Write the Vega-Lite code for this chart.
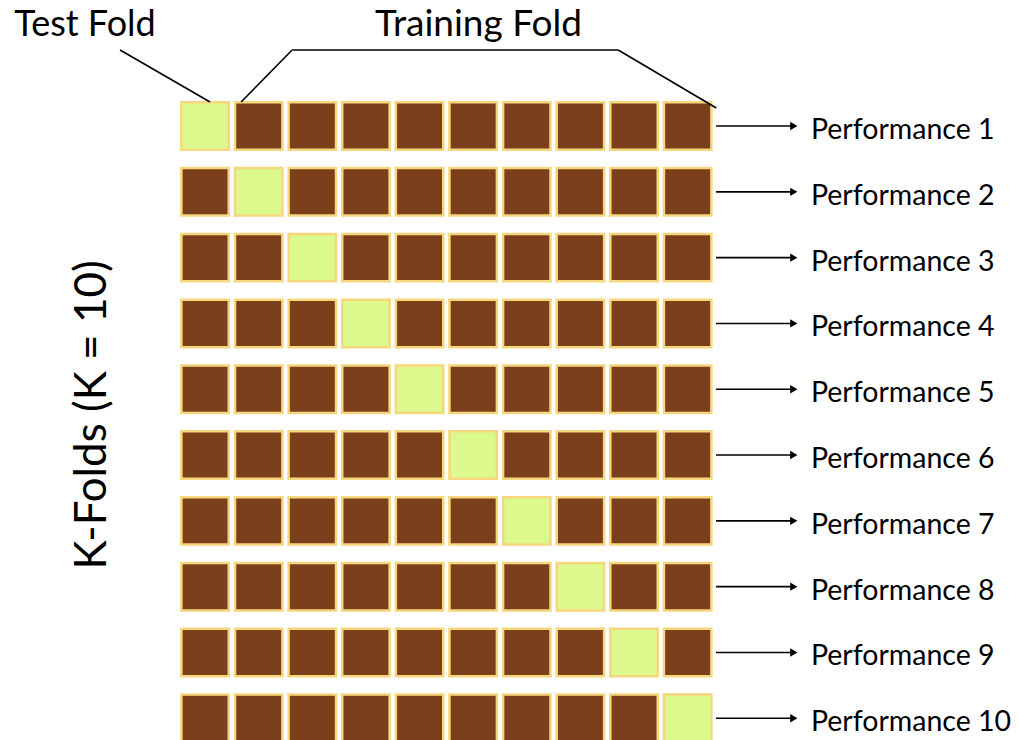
{
  "$schema": "https://vega.github.io/schema/vega-lite/v6.json",
  "width": 1019,
  "height": 740,
  "autosize": "none",
  "padding": 0,
  "background": "white",
  "config": {"view": {"stroke": null}},
  "datasets": {
    "folds": [
      {"k":1,"fold":1,"role":"Test"},{"k":1,"fold":2,"role":"Train"},{"k":1,"fold":3,"role":"Train"},{"k":1,"fold":4,"role":"Train"},{"k":1,"fold":5,"role":"Train"},{"k":1,"fold":6,"role":"Train"},{"k":1,"fold":7,"role":"Train"},{"k":1,"fold":8,"role":"Train"},{"k":1,"fold":9,"role":"Train"},{"k":1,"fold":10,"role":"Train"},
      {"k":2,"fold":1,"role":"Train"},{"k":2,"fold":2,"role":"Test"},{"k":2,"fold":3,"role":"Train"},{"k":2,"fold":4,"role":"Train"},{"k":2,"fold":5,"role":"Train"},{"k":2,"fold":6,"role":"Train"},{"k":2,"fold":7,"role":"Train"},{"k":2,"fold":8,"role":"Train"},{"k":2,"fold":9,"role":"Train"},{"k":2,"fold":10,"role":"Train"},
      {"k":3,"fold":1,"role":"Train"},{"k":3,"fold":2,"role":"Train"},{"k":3,"fold":3,"role":"Test"},{"k":3,"fold":4,"role":"Train"},{"k":3,"fold":5,"role":"Train"},{"k":3,"fold":6,"role":"Train"},{"k":3,"fold":7,"role":"Train"},{"k":3,"fold":8,"role":"Train"},{"k":3,"fold":9,"role":"Train"},{"k":3,"fold":10,"role":"Train"},
      {"k":4,"fold":1,"role":"Train"},{"k":4,"fold":2,"role":"Train"},{"k":4,"fold":3,"role":"Train"},{"k":4,"fold":4,"role":"Test"},{"k":4,"fold":5,"role":"Train"},{"k":4,"fold":6,"role":"Train"},{"k":4,"fold":7,"role":"Train"},{"k":4,"fold":8,"role":"Train"},{"k":4,"fold":9,"role":"Train"},{"k":4,"fold":10,"role":"Train"},
      {"k":5,"fold":1,"role":"Train"},{"k":5,"fold":2,"role":"Train"},{"k":5,"fold":3,"role":"Train"},{"k":5,"fold":4,"role":"Train"},{"k":5,"fold":5,"role":"Test"},{"k":5,"fold":6,"role":"Train"},{"k":5,"fold":7,"role":"Train"},{"k":5,"fold":8,"role":"Train"},{"k":5,"fold":9,"role":"Train"},{"k":5,"fold":10,"role":"Train"},
      {"k":6,"fold":1,"role":"Train"},{"k":6,"fold":2,"role":"Train"},{"k":6,"fold":3,"role":"Train"},{"k":6,"fold":4,"role":"Train"},{"k":6,"fold":5,"role":"Train"},{"k":6,"fold":6,"role":"Test"},{"k":6,"fold":7,"role":"Train"},{"k":6,"fold":8,"role":"Train"},{"k":6,"fold":9,"role":"Train"},{"k":6,"fold":10,"role":"Train"},
      {"k":7,"fold":1,"role":"Train"},{"k":7,"fold":2,"role":"Train"},{"k":7,"fold":3,"role":"Train"},{"k":7,"fold":4,"role":"Train"},{"k":7,"fold":5,"role":"Train"},{"k":7,"fold":6,"role":"Train"},{"k":7,"fold":7,"role":"Test"},{"k":7,"fold":8,"role":"Train"},{"k":7,"fold":9,"role":"Train"},{"k":7,"fold":10,"role":"Train"},
      {"k":8,"fold":1,"role":"Train"},{"k":8,"fold":2,"role":"Train"},{"k":8,"fold":3,"role":"Train"},{"k":8,"fold":4,"role":"Train"},{"k":8,"fold":5,"role":"Train"},{"k":8,"fold":6,"role":"Train"},{"k":8,"fold":7,"role":"Train"},{"k":8,"fold":8,"role":"Test"},{"k":8,"fold":9,"role":"Train"},{"k":8,"fold":10,"role":"Train"},
      {"k":9,"fold":1,"role":"Train"},{"k":9,"fold":2,"role":"Train"},{"k":9,"fold":3,"role":"Train"},{"k":9,"fold":4,"role":"Train"},{"k":9,"fold":5,"role":"Train"},{"k":9,"fold":6,"role":"Train"},{"k":9,"fold":7,"role":"Train"},{"k":9,"fold":8,"role":"Train"},{"k":9,"fold":9,"role":"Test"},{"k":9,"fold":10,"role":"Train"},
      {"k":10,"fold":1,"role":"Train"},{"k":10,"fold":2,"role":"Train"},{"k":10,"fold":3,"role":"Train"},{"k":10,"fold":4,"role":"Train"},{"k":10,"fold":5,"role":"Train"},{"k":10,"fold":6,"role":"Train"},{"k":10,"fold":7,"role":"Train"},{"k":10,"fold":8,"role":"Train"},{"k":10,"fold":9,"role":"Train"},{"k":10,"fold":10,"role":"Test"}
    ],
    "results": [
      {"k":1,"label":"Performance 1"},{"k":2,"label":"Performance 2"},{"k":3,"label":"Performance 3"},{"k":4,"label":"Performance 4"},{"k":5,"label":"Performance 5"},
      {"k":6,"label":"Performance 6"},{"k":7,"label":"Performance 7"},{"k":8,"label":"Performance 8"},{"k":9,"label":"Performance 9"},{"k":10,"label":"Performance 10"}
    ]
  },
  "encoding": {
    "x": {"type": "quantitative", "scale": {"domain": [-2.825, 16.18], "nice": false, "zero": false}, "axis": null},
    "y": {"type": "quantitative", "scale": {"domain": [-0.915, 10.33], "nice": false, "zero": false, "reverse": true}, "axis": null}
  },
  "layer": [
    {
      "data": {"name": "folds"},
      "mark": {"type": "point", "shape": "square", "filled": true, "size": 2250, "opacity": 1, "stroke": "#F7D77E", "strokeWidth": 2.5},
      "encoding": {
        "x": {"field": "fold", "type": "quantitative"},
        "y": {"field": "k", "type": "quantitative"},
        "color": {"field": "role", "type": "nominal", "scale": {"domain": ["Test", "Train"], "range": ["#DBF98C", "#7B3F1B"]}, "legend": null}
      }
    },
    {
      "data": {"name": "results"},
      "mark": {"type": "rule", "color": "black", "strokeWidth": 1.6},
      "encoding": {
        "x": {"datum": 10.53},
        "x2": {"datum": 11.95},
        "y": {"field": "k", "type": "quantitative"}
      }
    },
    {
      "data": {"name": "results"},
      "mark": {"type": "point", "shape": "triangle-right", "filled": true, "size": 70, "color": "black", "opacity": 1},
      "encoding": {
        "x": {"datum": 11.98},
        "y": {"field": "k", "type": "quantitative"}
      }
    },
    {
      "data": {"name": "results"},
      "mark": {"type": "text", "align": "left", "baseline": "alphabetic", "dy": 13, "font": "Lato", "fontSize": 28.5, "color": "black"},
      "encoding": {
        "x": {"datum": 12.3},
        "y": {"field": "k", "type": "quantitative"},
        "text": {"field": "label"}
      }
    },
    {
      "data": {"values": [{"t": "Test Fold"}]},
      "mark": {"type": "text", "align": "center", "baseline": "alphabetic", "font": "Lato", "fontSize": 36, "color": "black"},
      "encoding": {"x": {"datum": -1.24}, "y": {"datum": -0.368}, "text": {"field": "t"}}
    },
    {
      "data": {"values": [{"t": "Training Fold"}]},
      "mark": {"type": "text", "align": "center", "baseline": "alphabetic", "font": "Lato", "fontSize": 37, "color": "black"},
      "encoding": {"x": {"datum": 6.1}, "y": {"datum": -0.368}, "text": {"field": "t"}}
    },
    {
      "data": {"values": [{"t": "K-Folds (K = 10)"}]},
      "mark": {"type": "text", "align": "center", "baseline": "middle", "angle": 270, "font": "Lato", "fontSize": 44, "color": "black"},
      "encoding": {"x": {"datum": -1.09}, "y": {"datum": 5.39}, "text": {"field": "t"}}
    },
    {
      "data": {"values": [{}]},
      "mark": {"type": "rule", "color": "black", "strokeWidth": 1.6},
      "encoding": {"x": {"datum": -0.586}, "y": {"datum": -0.155}, "x2": {"datum": 1.093}, "y2": {"datum": 0.635}}
    },
    {
      "data": {"values": [{}]},
      "mark": {"type": "rule", "color": "black", "strokeWidth": 1.6},
      "encoding": {"x": {"datum": 1.672}, "y": {"datum": 0.635}, "x2": {"datum": 2.623}, "y2": {"datum": -0.155}}
    },
    {
      "data": {"values": [{}]},
      "mark": {"type": "rule", "color": "black", "strokeWidth": 1.6},
      "encoding": {"x": {"datum": 2.623}, "y": {"datum": -0.155}, "x2": {"datum": 8.705}, "y2": {"datum": -0.155}}
    },
    {
      "data": {"values": [{}]},
      "mark": {"type": "rule", "color": "black", "strokeWidth": 1.6},
      "encoding": {"x": {"datum": 8.705}, "y": {"datum": -0.155}, "x2": {"datum": 10.534}, "y2": {"datum": 0.726}}
    }
  ]
}
